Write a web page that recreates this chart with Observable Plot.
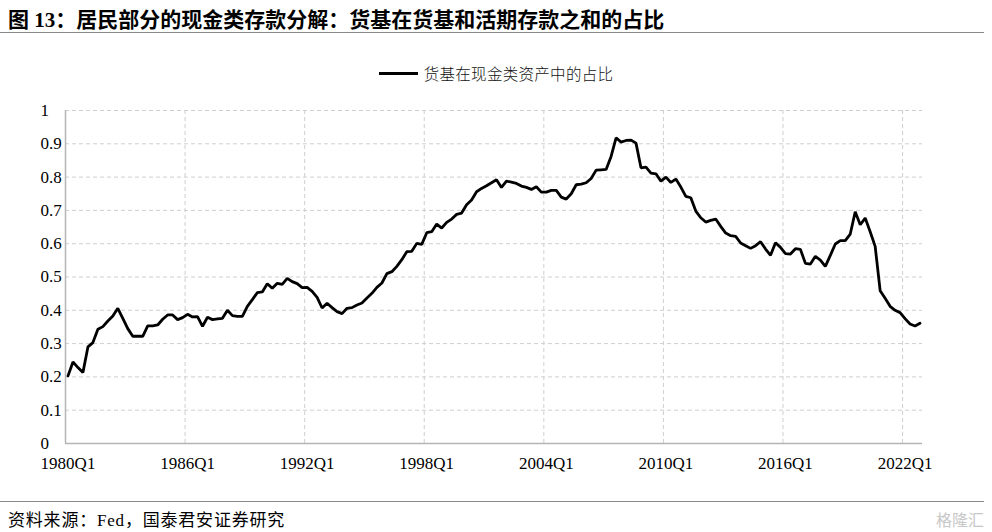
<!DOCTYPE html>
<html>
<head>
<meta charset="utf-8">
<script src="https://cdn.jsdelivr.net/npm/d3@7"></script>
<script src="https://cdn.jsdelivr.net/npm/@observablehq/plot@0.6"></script>
<style>
  html, body { margin: 0; padding: 0; background: #fff; }
  body { width: 992px; height: 532px; position: relative; overflow: hidden; }
  #title { position: absolute; left: 8px; top: 3px; font-family: 'Liberation Serif', 'Noto Sans CJK SC', serif; font-weight: bold; font-size: 21px; color: #000; white-space: nowrap; letter-spacing: 0px; }
  #rule1 { position: absolute; left: 0; top: 32px; width: 984px; height: 0; border-top: 1.5px solid #8a8a8a; }
  #legend { position: absolute; left: 0; width: 992px; top: 62px; display: flex; justify-content: center; align-items: center; }
  #legend .sw { width: 39px; height: 3px; background: #000; margin-right: 6px; margin-left: 0px; }
  #legend .tx { font-family: 'Noto Sans CJK SC', sans-serif; font-size: 15.5px; font-weight: 300; color: #111; letter-spacing: 0.3px; }
  #chart { position: absolute; left: 0; top: 90px; }
  #rule2 { position: absolute; left: 0; top: 501px; width: 984px; height: 0; border-top: 1.5px solid #8a8a8a; }
  #source { position: absolute; left: 8px; top: 506px; font-family: 'Liberation Serif', 'Noto Sans CJK SC', serif; font-size: 17px; color: #000; white-space: nowrap; letter-spacing: 0.8px; }
  #wm { position: absolute; right: 8px; top: 507px; font-family: 'Noto Sans CJK SC', sans-serif; font-size: 16px; color: #c8c8c8; }
</style>
</head>
<body>
<div id="title">图 13：居民部分的现金类存款分解：货基在货基和活期存款之和的占比</div>
<div id="rule1"></div>
<div id="legend"><div class="sw"></div><div class="tx">货基在现金类资产中的占比</div></div>
<div id="chart"></div>
<div id="rule2"></div>
<div id="source">资料来源：Fed，国泰君安证券研究</div>
<div id="wm">格隆汇</div>
<script>
// Quarterly series, starting 1980Q1 (one value per quarter)
const startYear = 1980;
const seriesName = "货基在现金类资产中的占比";
const shareValues = [
  0.203, 0.245, 0.228, 0.213, 0.290, 0.303, 0.343, 0.351, 0.368, 0.383,
  0.406, 0.376, 0.345, 0.322, 0.322, 0.322, 0.353, 0.353, 0.356, 0.373,
  0.386, 0.386, 0.372, 0.378, 0.388, 0.380, 0.381, 0.352, 0.379, 0.372,
  0.374, 0.376, 0.400, 0.384, 0.382, 0.382, 0.412, 0.432, 0.453, 0.455,
  0.480, 0.466, 0.481, 0.478, 0.496, 0.486, 0.480, 0.468, 0.469, 0.457,
  0.439, 0.407, 0.421, 0.408, 0.396, 0.390, 0.406, 0.408, 0.416, 0.422,
  0.437, 0.451, 0.469, 0.482, 0.510, 0.516, 0.532, 0.552, 0.576, 0.577,
  0.601, 0.598, 0.633, 0.636, 0.659, 0.647, 0.664, 0.674, 0.688, 0.692,
  0.717, 0.731, 0.756, 0.766, 0.774, 0.783, 0.792, 0.769, 0.788, 0.785,
  0.781, 0.773, 0.769, 0.763, 0.771, 0.755, 0.755, 0.760, 0.760, 0.740,
  0.734, 0.750, 0.777, 0.779, 0.783, 0.796, 0.821, 0.822, 0.823, 0.862,
  0.918, 0.905, 0.910, 0.911, 0.902, 0.828, 0.830, 0.812, 0.810, 0.788,
  0.800, 0.784, 0.794, 0.770, 0.742, 0.738, 0.698, 0.678, 0.665, 0.670,
  0.674, 0.652, 0.632, 0.624, 0.622, 0.602, 0.594, 0.586, 0.594, 0.606,
  0.584, 0.565, 0.603, 0.589, 0.570, 0.569, 0.585, 0.583, 0.541, 0.539,
  0.562, 0.551, 0.532, 0.565, 0.599, 0.609, 0.609, 0.629, 0.696, 0.657,
  0.677, 0.636, 0.592, 0.459, 0.436, 0.412, 0.400, 0.393, 0.375, 0.359,
  0.353, 0.361
];
const xTickLabels = ["1980Q1", "1986Q1", "1992Q1", "1998Q1", "2004Q1", "2010Q1", "2016Q1", "2022Q1"];
const yTickValues = [0, 0.1, 0.2, 0.3, 0.4, 0.5, 0.6, 0.7, 0.8, 0.9, 1];

const labelIndex = s => (+s.slice(0, 4) - startYear) * 4 + (+s.slice(5) - 1);
const xTicks = xTickLabels.map(labelIndex);
const xGrid = xTicks.map(i => i - 0.5);
const rows = shareValues.map((v, i) => ({i, v}));
const n = shareValues.length;

const chart = Plot.plot({
  width: 992,
  height: 401,
  marginLeft: 65,
  marginRight: 70,
  marginTop: 20,
  marginBottom: 48,
  style: {fontFamily: "'Liberation Serif', 'Times New Roman', serif", fontSize: "17px", color: "#000", background: "transparent"},
  x: {domain: [-0.5, n - 0.5]},
  y: {domain: [0, 1]},
  marks: [
    Plot.gridY(yTickValues.filter(d => d > 0), {stroke: "#cfcfcf", strokeOpacity: 1, strokeDasharray: "4,3", strokeWidth: 1}),
    Plot.gridX(xGrid.filter(d => d > 0), {stroke: "#cfcfcf", strokeOpacity: 1, strokeDasharray: "4,3", strokeWidth: 1}),
    Plot.ruleY([0], {stroke: "#b5b5b5", strokeWidth: 1.5}),
    Plot.ruleX([-0.5], {y1: 0, y2: 1, stroke: "#b5b5b5", strokeWidth: 1.5}),
    Plot.axisY(yTickValues, {anchor: "left", tickSize: 0, tickPadding: 25, textAnchor: "start", tickFormat: d => String(d), label: null}),
    Plot.axisX(xTicks, {anchor: "bottom", tickSize: 0, tickPadding: 13, tickFormat: i => xTickLabels[xTicks.indexOf(i)], label: null}),
    Plot.line(rows, {x: "i", y: "v", stroke: "#000", strokeWidth: 2.8, strokeLinejoin: "miter", title: () => seriesName})
  ]
});
document.getElementById("chart").appendChild(chart);
</script>
</body>
</html>
